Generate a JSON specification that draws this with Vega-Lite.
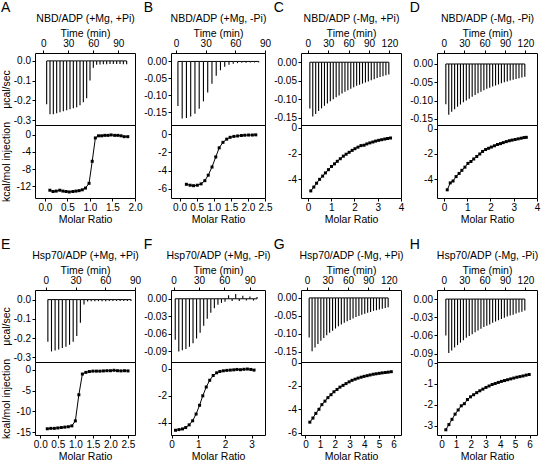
{
"$schema": "https://vega.github.io/schema/vega-lite/v6.json",
"background": "white",
"padding": {"left": 0, "top": 0, "right": 0, "bottom": 0},
"config": {
 "font": "Liberation Sans",
 "view": {"stroke": "black", "strokeWidth": 1},
 "axis": {"grid": false, "domain": false, "tickColor": "black", "tickSize": 3, "labelColor": "black", "labelFontSize": 10, "labelFont": "Liberation Sans", "titleFont": "Liberation Sans", "titleFontSize": 10.5, "titleFontWeight": "normal", "titleColor": "black", "labelPadding": 1.5, "labelFlush": false, "labelOverlap": false, "titlePadding": 2},
 "title": {"font": "Liberation Sans", "fontSize": 14, "fontWeight": "normal", "anchor": "start", "frame": "bounds", "color": "black", "offset": -1},
 "locale": {"number": {"decimal": ".", "thousands": ",", "grouping": [3], "currency": ["$", ""], "minus": "-"}}
},
"datasets": {
 "kd": [
  {"panel": "A", "kd": ": 4.55nM"}, {"panel": "B", "kd": ": 66.3nM"}, {"panel": "C", "kd": ": 4.21μM"}, {"panel": "D", "kd": ": 4.61μM"},
  {"panel": "E", "kd": ": 6.50nM"}, {"panel": "F", "kd": ": 81.5nM"}, {"panel": "G", "kd": ": 6.54μM"}, {"panel": "H", "kd": ": 9.92μM"}
 ],
 "A": [
  {"t": 4, "p": -0.22, "mr": 0.11, "q": -12.9}, {"t": 8, "p": -0.27, "mr": 0.18, "q": -13.2}, {"t": 12, "p": -0.27, "mr": 0.25, "q": -13.1},
  {"t": 16, "p": -0.265, "mr": 0.33, "q": -12.9}, {"t": 20, "p": -0.26, "mr": 0.40, "q": -13.1}, {"t": 24, "p": -0.255, "mr": 0.47, "q": -13.2},
  {"t": 28, "p": -0.25, "mr": 0.54, "q": -13.3}, {"t": 32, "p": -0.245, "mr": 0.62, "q": -13.2}, {"t": 36, "p": -0.24, "mr": 0.69, "q": -13.1},
  {"t": 40, "p": -0.235, "mr": 0.76, "q": -13.0}, {"t": 44, "p": -0.225, "mr": 0.83, "q": -12.8}, {"t": 48, "p": -0.21, "mr": 0.90, "q": -12.4},
  {"t": 52, "p": -0.19, "mr": 0.98, "q": -11.3}, {"t": 56, "p": -0.1, "mr": 1.05, "q": -6.2}, {"t": 60, "p": -0.035, "mr": 1.12, "q": -0.8},
  {"t": 64, "p": -0.02, "mr": 1.19, "q": -0.3}, {"t": 68, "p": -0.018, "mr": 1.26, "q": -0.3}, {"t": 72, "p": -0.017, "mr": 1.33, "q": -0.2},
  {"t": 76, "p": -0.017, "mr": 1.40, "q": -0.2}, {"t": 80, "p": -0.016, "mr": 1.47, "q": -0.1}, {"t": 84, "p": -0.016, "mr": 1.55, "q": -0.2},
  {"t": 88, "p": -0.016, "mr": 1.62, "q": -0.2}, {"t": 92, "p": -0.016, "mr": 1.69, "q": -0.3}, {"t": 96, "p": -0.017, "mr": 1.76, "q": -0.5},
  {"t": 100, "p": -0.017, "mr": 1.84, "q": -0.5}
 ],
 "B": [
  {"t": 2, "p": -0.132, "mr": 0.20, "q": -5.5}, {"t": 6.3, "p": -0.169, "mr": 0.31, "q": -5.6}, {"t": 10.6, "p": -0.167, "mr": 0.41, "q": -5.65},
  {"t": 14.9, "p": -0.163, "mr": 0.52, "q": -5.6}, {"t": 19.2, "p": -0.155, "mr": 0.63, "q": -5.45}, {"t": 23.5, "p": -0.14, "mr": 0.74, "q": -5.1},
  {"t": 27.8, "p": -0.118, "mr": 0.84, "q": -4.5}, {"t": 32.1, "p": -0.092, "mr": 0.95, "q": -3.6}, {"t": 36.4, "p": -0.066, "mr": 1.06, "q": -2.5},
  {"t": 40.7, "p": -0.042, "mr": 1.16, "q": -1.5}, {"t": 45, "p": -0.026, "mr": 1.27, "q": -0.9}, {"t": 49.3, "p": -0.016, "mr": 1.38, "q": -0.55},
  {"t": 53.6, "p": -0.01, "mr": 1.48, "q": -0.35}, {"t": 57.9, "p": -0.007, "mr": 1.59, "q": -0.25}, {"t": 62.2, "p": -0.005, "mr": 1.70, "q": -0.2},
  {"t": 66.5, "p": -0.004, "mr": 1.81, "q": -0.15}, {"t": 70.8, "p": -0.004, "mr": 1.91, "q": -0.12}, {"t": 75.1, "p": -0.003, "mr": 2.02, "q": -0.1},
  {"t": 79.4, "p": -0.003, "mr": 2.13, "q": -0.1}, {"t": 83.7, "p": -0.003, "mr": 2.23, "q": -0.08}
 ],
 "C": [
  {"t": 3, "p": -0.125, "mr": 0.12, "q": -4.9}, {"t": 7.3, "p": -0.147, "mr": 0.25, "q": -4.6}, {"t": 11.6, "p": -0.14, "mr": 0.37, "q": -4.3},
  {"t": 15.9, "p": -0.132, "mr": 0.50, "q": -4.0}, {"t": 20.2, "p": -0.125, "mr": 0.63, "q": -3.75}, {"t": 24.5, "p": -0.118, "mr": 0.75, "q": -3.5},
  {"t": 28.8, "p": -0.112, "mr": 0.88, "q": -3.25}, {"t": 33.1, "p": -0.106, "mr": 1.01, "q": -3.0}, {"t": 37.4, "p": -0.1, "mr": 1.14, "q": -2.8},
  {"t": 41.7, "p": -0.095, "mr": 1.26, "q": -2.6}, {"t": 46, "p": -0.09, "mr": 1.39, "q": -2.4}, {"t": 50.3, "p": -0.085, "mr": 1.52, "q": -2.2},
  {"t": 54.6, "p": -0.08, "mr": 1.64, "q": -2.05}, {"t": 58.9, "p": -0.076, "mr": 1.77, "q": -1.9}, {"t": 63.2, "p": -0.072, "mr": 1.90, "q": -1.75},
  {"t": 67.5, "p": -0.068, "mr": 2.02, "q": -1.62}, {"t": 71.8, "p": -0.064, "mr": 2.15, "q": -1.5}, {"t": 76.1, "p": -0.061, "mr": 2.28, "q": -1.38},
  {"t": 80.4, "p": -0.058, "mr": 2.41, "q": -1.35}, {"t": 84.7, "p": -0.055, "mr": 2.53, "q": -1.25}, {"t": 89, "p": -0.052, "mr": 2.66, "q": -1.17},
  {"t": 93.3, "p": -0.049, "mr": 2.79, "q": -1.1}, {"t": 97.6, "p": -0.046, "mr": 2.91, "q": -1.03}, {"t": 101.9, "p": -0.043, "mr": 3.04, "q": -0.97},
  {"t": 106.2, "p": -0.04, "mr": 3.17, "q": -0.92}, {"t": 110.5, "p": -0.038, "mr": 3.30, "q": -0.87}, {"t": 114.8, "p": -0.035, "mr": 3.42, "q": -0.83},
  {"t": 119.1, "p": -0.033, "mr": 3.55, "q": -0.79}
 ],
 "D": [
  {"t": 3, "p": -0.11, "mr": 0.14, "q": -4.85}, {"t": 7.3, "p": -0.139, "mr": 0.27, "q": -4.3}, {"t": 11.6, "p": -0.131, "mr": 0.39, "q": -4.15},
  {"t": 15.9, "p": -0.124, "mr": 0.52, "q": -3.8}, {"t": 20.2, "p": -0.117, "mr": 0.65, "q": -3.55}, {"t": 24.5, "p": -0.111, "mr": 0.77, "q": -3.3},
  {"t": 28.8, "p": -0.105, "mr": 0.90, "q": -3.05}, {"t": 33.1, "p": -0.1, "mr": 1.03, "q": -2.75}, {"t": 37.4, "p": -0.095, "mr": 1.16, "q": -2.6},
  {"t": 41.7, "p": -0.09, "mr": 1.28, "q": -2.4}, {"t": 46, "p": -0.085, "mr": 1.41, "q": -2.2}, {"t": 50.3, "p": -0.08, "mr": 1.54, "q": -2.0},
  {"t": 54.6, "p": -0.076, "mr": 1.66, "q": -1.8}, {"t": 58.9, "p": -0.072, "mr": 1.79, "q": -1.65}, {"t": 63.2, "p": -0.068, "mr": 1.92, "q": -1.55},
  {"t": 67.5, "p": -0.065, "mr": 2.04, "q": -1.45}, {"t": 71.8, "p": -0.062, "mr": 2.17, "q": -1.35}, {"t": 76.1, "p": -0.059, "mr": 2.30, "q": -1.25},
  {"t": 80.4, "p": -0.056, "mr": 2.43, "q": -1.18}, {"t": 84.7, "p": -0.053, "mr": 2.55, "q": -1.1}, {"t": 89, "p": -0.05, "mr": 2.68, "q": -1.02},
  {"t": 93.3, "p": -0.048, "mr": 2.81, "q": -0.95}, {"t": 97.6, "p": -0.045, "mr": 2.93, "q": -0.9}, {"t": 101.9, "p": -0.043, "mr": 3.06, "q": -0.85},
  {"t": 106.2, "p": -0.041, "mr": 3.19, "q": -0.8}, {"t": 110.5, "p": -0.039, "mr": 3.32, "q": -0.75}, {"t": 114.8, "p": -0.037, "mr": 3.44, "q": -0.7},
  {"t": 119.1, "p": -0.035, "mr": 3.54, "q": -0.68}
 ],
 "E": [
  {"t": 2, "p": -0.22, "mr": 0.2, "q": -14.2}, {"t": 5.65, "p": -0.27, "mr": 0.3, "q": -14.1}, {"t": 9.3, "p": -0.265, "mr": 0.4, "q": -14.1},
  {"t": 12.95, "p": -0.26, "mr": 0.5, "q": -14.0}, {"t": 16.6, "p": -0.252, "mr": 0.6, "q": -13.9}, {"t": 20.25, "p": -0.245, "mr": 0.7, "q": -13.8},
  {"t": 23.9, "p": -0.235, "mr": 0.8, "q": -13.7}, {"t": 27.55, "p": -0.22, "mr": 0.9, "q": -13.5}, {"t": 31.2, "p": -0.19, "mr": 1.0, "q": -12.3},
  {"t": 34.85, "p": -0.12, "mr": 1.1, "q": -6.0}, {"t": 38.5, "p": -0.025, "mr": 1.2, "q": -1.0}, {"t": 42.15, "p": -0.01, "mr": 1.3, "q": -0.6},
  {"t": 45.8, "p": -0.009, "mr": 1.4, "q": -0.4}, {"t": 49.45, "p": -0.008, "mr": 1.5, "q": -0.3}, {"t": 53.1, "p": -0.008, "mr": 1.6, "q": -0.3},
  {"t": 56.75, "p": -0.008, "mr": 1.7, "q": -0.3}, {"t": 60.4, "p": -0.008, "mr": 1.8, "q": -0.25}, {"t": 64.05, "p": -0.007, "mr": 1.9, "q": -0.2},
  {"t": 67.7, "p": -0.007, "mr": 2.0, "q": -0.2}, {"t": 71.35, "p": -0.007, "mr": 2.1, "q": -0.1}, {"t": 75, "p": -0.007, "mr": 2.2, "q": -0.2},
  {"t": 78.65, "p": -0.007, "mr": 2.3, "q": -0.25}, {"t": 82.3, "p": -0.007, "mr": 2.4, "q": -0.2}, {"t": 85.95, "p": -0.007, "mr": 2.5, "q": -0.25}
 ],
 "F": [
  {"t": 2, "p": -0.07, "mr": 0.15, "q": -4.55}, {"t": 6.2, "p": -0.09, "mr": 0.28, "q": -4.5}, {"t": 10.4, "p": -0.088, "mr": 0.41, "q": -4.45},
  {"t": 14.6, "p": -0.086, "mr": 0.53, "q": -4.35}, {"t": 18.8, "p": -0.082, "mr": 0.66, "q": -4.15}, {"t": 23, "p": -0.076, "mr": 0.79, "q": -3.85},
  {"t": 27.2, "p": -0.068, "mr": 0.92, "q": -3.35}, {"t": 31.4, "p": -0.058, "mr": 1.05, "q": -2.7}, {"t": 35.6, "p": -0.046, "mr": 1.17, "q": -2.0},
  {"t": 39.8, "p": -0.034, "mr": 1.30, "q": -1.35}, {"t": 44, "p": -0.024, "mr": 1.43, "q": -0.85}, {"t": 48.2, "p": -0.016, "mr": 1.56, "q": -0.5},
  {"t": 52.4, "p": -0.01, "mr": 1.69, "q": -0.3}, {"t": 56.6, "p": -0.007, "mr": 1.81, "q": -0.2}, {"t": 60.8, "p": -0.005, "mr": 1.94, "q": -0.15},
  {"t": 65, "p": 0.006, "mr": 2.07, "q": -0.12}, {"t": 69.2, "p": -0.004, "mr": 2.20, "q": -0.1}, {"t": 73.4, "p": 0.008, "mr": 2.33, "q": -0.08},
  {"t": 77.6, "p": -0.004, "mr": 2.45, "q": -0.05}, {"t": 81.8, "p": 0.005, "mr": 2.58, "q": -0.07}, {"t": 86, "p": -0.003, "mr": 2.71, "q": -0.04},
  {"t": 90.2, "p": 0.004, "mr": 2.84, "q": -0.02}, {"t": 94.4, "p": -0.003, "mr": 2.97, "q": -0.05}, {"t": 98.6, "p": 0.003, "mr": 3.09, "q": -0.1}
 ],
 "G": [
  {"t": 3, "p": -0.11, "mr": 0.30, "q": -5.1}, {"t": 7.3, "p": -0.148, "mr": 0.51, "q": -4.75}, {"t": 11.6, "p": -0.138, "mr": 0.71, "q": -4.35},
  {"t": 15.9, "p": -0.128, "mr": 0.92, "q": -4.0}, {"t": 20.2, "p": -0.119, "mr": 1.12, "q": -3.6}, {"t": 24.5, "p": -0.111, "mr": 1.33, "q": -3.3},
  {"t": 28.8, "p": -0.104, "mr": 1.53, "q": -3.0}, {"t": 33.1, "p": -0.097, "mr": 1.74, "q": -2.75}, {"t": 37.4, "p": -0.091, "mr": 1.94, "q": -2.5},
  {"t": 41.7, "p": -0.085, "mr": 2.15, "q": -2.3}, {"t": 46, "p": -0.079, "mr": 2.35, "q": -2.1}, {"t": 50.3, "p": -0.074, "mr": 2.56, "q": -1.95},
  {"t": 54.6, "p": -0.069, "mr": 2.76, "q": -1.8}, {"t": 58.9, "p": -0.065, "mr": 2.97, "q": -1.65}, {"t": 63.2, "p": -0.061, "mr": 3.17, "q": -1.52},
  {"t": 67.5, "p": -0.057, "mr": 3.38, "q": -1.42}, {"t": 71.8, "p": -0.053, "mr": 3.58, "q": -1.33}, {"t": 76.1, "p": -0.05, "mr": 3.79, "q": -1.25},
  {"t": 80.4, "p": -0.047, "mr": 3.99, "q": -1.18}, {"t": 84.7, "p": -0.044, "mr": 4.20, "q": -1.12}, {"t": 89, "p": -0.041, "mr": 4.40, "q": -1.06},
  {"t": 93.3, "p": -0.039, "mr": 4.61, "q": -1.0}, {"t": 97.6, "p": -0.036, "mr": 4.81, "q": -0.96}, {"t": 101.9, "p": -0.034, "mr": 5.02, "q": -0.92},
  {"t": 106.2, "p": -0.032, "mr": 5.22, "q": -0.88}, {"t": 110.5, "p": -0.03, "mr": 5.43, "q": -0.85}, {"t": 114.8, "p": -0.028, "mr": 5.63, "q": -0.82},
  {"t": 119.1, "p": -0.026, "mr": 5.84, "q": -0.78}
 ],
 "H": [
  {"t": 3, "p": -0.06, "mr": 0.30, "q": -3.2}, {"t": 7.3, "p": -0.089, "mr": 0.51, "q": -2.95}, {"t": 11.6, "p": -0.085, "mr": 0.72, "q": -2.7},
  {"t": 15.9, "p": -0.08, "mr": 0.93, "q": -2.45}, {"t": 20.2, "p": -0.076, "mr": 1.14, "q": -2.25}, {"t": 24.5, "p": -0.072, "mr": 1.35, "q": -2.05},
  {"t": 28.8, "p": -0.068, "mr": 1.56, "q": -1.95}, {"t": 33.1, "p": -0.064, "mr": 1.77, "q": -1.75}, {"t": 37.4, "p": -0.061, "mr": 1.98, "q": -1.62},
  {"t": 41.7, "p": -0.058, "mr": 2.19, "q": -1.52}, {"t": 46, "p": -0.055, "mr": 2.40, "q": -1.42}, {"t": 50.3, "p": -0.052, "mr": 2.61, "q": -1.33},
  {"t": 54.6, "p": -0.049, "mr": 2.82, "q": -1.25}, {"t": 58.9, "p": -0.046, "mr": 3.03, "q": -1.17}, {"t": 63.2, "p": -0.044, "mr": 3.24, "q": -1.1},
  {"t": 67.5, "p": -0.042, "mr": 3.45, "q": -1.03}, {"t": 71.8, "p": -0.039, "mr": 3.66, "q": -0.98}, {"t": 76.1, "p": -0.037, "mr": 3.87, "q": -0.93},
  {"t": 80.4, "p": -0.035, "mr": 4.08, "q": -0.88}, {"t": 84.7, "p": -0.033, "mr": 4.29, "q": -0.84}, {"t": 89, "p": -0.031, "mr": 4.50, "q": -0.8},
  {"t": 93.3, "p": -0.029, "mr": 4.71, "q": -0.76}, {"t": 97.6, "p": -0.027, "mr": 4.92, "q": -0.72}, {"t": 101.9, "p": -0.026, "mr": 5.13, "q": -0.68},
  {"t": 106.2, "p": -0.024, "mr": 5.34, "q": -0.65}, {"t": 110.5, "p": -0.022, "mr": 5.55, "q": -0.62}, {"t": 114.8, "p": -0.021, "mr": 5.76, "q": -0.58},
  {"t": 119.1, "p": -0.019, "mr": 5.97, "q": -0.55}
 ]
},
"spacing": 11,
"vconcat": [
 {
  "columns": 4, "spacing": {"row": 0, "column": 36}, "bounds": "flush",
  "concat": [
   {"width": 100, "height": 72, "title": "A", "data": {"name": "A"},
    "encoding": {"x": {"field": "t", "type": "quantitative", "scale": {"domain": [-10, 110], "nice": false, "zero": false}, "axis": {"orient": "top", "values": [0, 30, 60, 90], "title": ["NBD/ADP (+Mg, +Pi)", "Time (min)"], "titleLineHeight": 15, "titlePadding": 0}}},
    "layer": [
     {"mark": {"type": "rule", "color": "black", "strokeWidth": 1.1}, "encoding": {"y": {"field": "p", "type": "quantitative", "scale": {"domain": [-0.325, 0.04], "nice": false, "zero": false}, "axis": {"values": [0, -0.1, -0.2, -0.3], "format": ".1f", "title": "μcal/sec", "titleX": -24}}, "y2": {"datum": 0}}},
     {"mark": {"type": "line", "color": "black", "strokeWidth": 1}, "encoding": {"y": {"datum": 0, "type": "quantitative", "scale": {"domain": [-0.325, 0.04], "nice": false, "zero": false}, "axis": {"values": [0, -0.1, -0.2, -0.3], "format": ".1f", "title": "μcal/sec", "titleX": -24}}}}
    ]},
   {"width": 94, "height": 72, "title": "B", "data": {"name": "B"},
    "encoding": {"x": {"field": "t", "type": "quantitative", "scale": {"domain": [-5, 90], "nice": false, "zero": false}, "axis": {"orient": "top", "values": [0, 30, 60, 90], "title": ["NBD/ADP (+Mg, -Pi)", "Time (min)"], "titleLineHeight": 15, "titlePadding": 0}}},
    "layer": [
     {"mark": {"type": "rule", "color": "black", "strokeWidth": 1.1}, "encoding": {"y": {"field": "p", "type": "quantitative", "scale": {"domain": [-0.188, 0.025], "nice": false, "zero": false}, "axis": {"values": [0, -0.05, -0.1, -0.15], "format": ".2f", "title": null}}, "y2": {"datum": 0}}},
     {"mark": {"type": "line", "color": "black", "strokeWidth": 1}, "encoding": {"y": {"datum": 0, "type": "quantitative", "scale": {"domain": [-0.188, 0.025], "nice": false, "zero": false}, "axis": {"values": [0, -0.05, -0.1, -0.15], "format": ".2f", "title": null}}}}
    ]},
   {"width": 100, "height": 72, "title": "C", "data": {"name": "C"},
    "encoding": {"x": {"field": "t", "type": "quantitative", "scale": {"domain": [-10, 137], "nice": false, "zero": false}, "axis": {"orient": "top", "values": [0, 30, 60, 90, 120], "title": ["NBD/ADP (-Mg, +Pi)", "Time (min)"], "titleLineHeight": 15, "titlePadding": 0}}},
    "layer": [
     {"mark": {"type": "rule", "color": "black", "strokeWidth": 1.1}, "encoding": {"y": {"field": "p", "type": "quantitative", "scale": {"domain": [-0.17, 0.025], "nice": false, "zero": false}, "axis": {"values": [0, -0.05, -0.1, -0.15], "format": ".2f", "title": null}}, "y2": {"datum": 0}}},
     {"mark": {"type": "line", "color": "black", "strokeWidth": 1}, "encoding": {"y": {"datum": 0, "type": "quantitative", "scale": {"domain": [-0.17, 0.025], "nice": false, "zero": false}, "axis": {"values": [0, -0.05, -0.1, -0.15], "format": ".2f", "title": null}}}}
    ]},
   {"width": 100, "height": 72, "title": "D", "data": {"name": "D"},
    "encoding": {"x": {"field": "t", "type": "quantitative", "scale": {"domain": [-10, 137], "nice": false, "zero": false}, "axis": {"orient": "top", "values": [0, 30, 60, 90, 120], "title": ["NBD/ADP (-Mg, -Pi)", "Time (min)"], "titleLineHeight": 15, "titlePadding": 0}}},
    "layer": [
     {"mark": {"type": "rule", "color": "black", "strokeWidth": 1.1}, "encoding": {"y": {"field": "p", "type": "quantitative", "scale": {"domain": [-0.167, 0.03], "nice": false, "zero": false}, "axis": {"values": [0, -0.05, -0.1, -0.15], "format": ".2f", "title": null}}, "y2": {"datum": 0}}},
     {"mark": {"type": "line", "color": "black", "strokeWidth": 1}, "encoding": {"y": {"datum": 0, "type": "quantitative", "scale": {"domain": [-0.167, 0.03], "nice": false, "zero": false}, "axis": {"values": [0, -0.05, -0.1, -0.15], "format": ".2f", "title": null}}}}
    ]},
   {"width": 100, "height": 73, "data": {"name": "A"},
    "encoding": {
     "x": {"field": "mr", "type": "quantitative", "scale": {"domain": [-0.22, 2.0], "nice": false, "zero": false}, "axis": {"values": [0, 0.5, 1, 1.5, 2], "format": ".1f", "title": "Molar Ratio"}},
     "y": {"field": "q", "type": "quantitative", "scale": {"domain": [-14.7, 2.2], "nice": false, "zero": false}, "axis": {"values": [0, -4, -8, -12], "title": "kcal/mol injection", "titleX": -24}}},
    "layer": [
     {"mark": {"type": "line", "color": "black", "strokeWidth": 1}},
     {"mark": {"type": "point", "shape": "square", "filled": true, "color": "black", "size": 9, "opacity": 1}},
     {"data": {"name": "kd"}, "transform": [{"filter": "datum.panel === 'A'"}], "mark": {"type": "text", "text": "K", "fontStyle": "italic", "fontSize": 10, "align": "left", "baseline": "middle"}, "encoding": {"x": {"datum": -0.12, "type": "quantitative"}, "y": {"datum": -4, "type": "quantitative"}}},
     {"data": {"name": "kd"}, "transform": [{"filter": "datum.panel === 'A'"}], "mark": {"type": "text", "text": "d", "fontSize": 7, "dx": 7, "dy": 3, "align": "left", "baseline": "middle"}, "encoding": {"x": {"datum": -0.12, "type": "quantitative"}, "y": {"datum": -4, "type": "quantitative"}}},
     {"data": {"name": "kd"}, "transform": [{"filter": "datum.panel === 'A'"}], "mark": {"type": "text", "fontSize": 10, "dx": 11, "align": "left", "baseline": "middle"}, "encoding": {"text": {"field": "kd"}, "x": {"datum": -0.12, "type": "quantitative"}, "y": {"datum": -4, "type": "quantitative"}}}
    ]},
   {"width": 94, "height": 73, "data": {"name": "B"},
    "encoding": {
     "x": {"field": "mr", "type": "quantitative", "scale": {"domain": [-0.25, 2.5], "nice": false, "zero": false}, "axis": {"values": [0, 0.5, 1, 1.5, 2, 2.5], "format": ".1f", "title": "Molar Ratio"}},
     "y": {"field": "q", "type": "quantitative", "scale": {"domain": [-7, 1], "nice": false, "zero": false}, "axis": {"values": [0, -2, -4, -6], "title": null}}},
    "layer": [
     {"mark": {"type": "line", "color": "black", "strokeWidth": 1}},
     {"mark": {"type": "point", "shape": "square", "filled": true, "color": "black", "size": 9, "opacity": 1}},
     {"data": {"name": "kd"}, "transform": [{"filter": "datum.panel === 'B'"}], "mark": {"type": "text", "text": "K", "fontStyle": "italic", "fontSize": 10, "align": "left", "baseline": "middle"}, "encoding": {"x": {"datum": 0.9, "type": "quantitative"}, "y": {"datum": -4.2, "type": "quantitative"}}},
     {"data": {"name": "kd"}, "transform": [{"filter": "datum.panel === 'B'"}], "mark": {"type": "text", "text": "d", "fontSize": 7, "dx": 7, "dy": 3, "align": "left", "baseline": "middle"}, "encoding": {"x": {"datum": 0.9, "type": "quantitative"}, "y": {"datum": -4.2, "type": "quantitative"}}},
     {"data": {"name": "kd"}, "transform": [{"filter": "datum.panel === 'B'"}], "mark": {"type": "text", "fontSize": 10, "dx": 11, "align": "left", "baseline": "middle"}, "encoding": {"text": {"field": "kd"}, "x": {"datum": 0.9, "type": "quantitative"}, "y": {"datum": -4.2, "type": "quantitative"}}}
    ]},
   {"width": 100, "height": 73, "data": {"name": "C"},
    "encoding": {
     "x": {"field": "mr", "type": "quantitative", "scale": {"domain": [-0.3, 4], "nice": false, "zero": false}, "axis": {"values": [0, 1, 2, 3, 4], "format": "d", "title": "Molar Ratio"}},
     "y": {"field": "q", "type": "quantitative", "scale": {"domain": [-5.45, 0.22], "nice": false, "zero": false}, "axis": {"values": [0, -2, -4], "title": null}}},
    "layer": [
     {"mark": {"type": "line", "color": "black", "strokeWidth": 1}},
     {"mark": {"type": "point", "shape": "square", "filled": true, "color": "black", "size": 9, "opacity": 1}},
     {"data": {"name": "kd"}, "transform": [{"filter": "datum.panel === 'C'"}], "mark": {"type": "text", "text": "K", "fontStyle": "italic", "fontSize": 10, "align": "left", "baseline": "middle"}, "encoding": {"x": {"datum": 1.45, "type": "quantitative"}, "y": {"datum": -4.1, "type": "quantitative"}}},
     {"data": {"name": "kd"}, "transform": [{"filter": "datum.panel === 'C'"}], "mark": {"type": "text", "text": "d", "fontSize": 7, "dx": 7, "dy": 3, "align": "left", "baseline": "middle"}, "encoding": {"x": {"datum": 1.45, "type": "quantitative"}, "y": {"datum": -4.1, "type": "quantitative"}}},
     {"data": {"name": "kd"}, "transform": [{"filter": "datum.panel === 'C'"}], "mark": {"type": "text", "fontSize": 10, "dx": 11, "align": "left", "baseline": "middle"}, "encoding": {"text": {"field": "kd"}, "x": {"datum": 1.45, "type": "quantitative"}, "y": {"datum": -4.1, "type": "quantitative"}}}
    ]},
   {"width": 100, "height": 73, "data": {"name": "D"},
    "encoding": {
     "x": {"field": "mr", "type": "quantitative", "scale": {"domain": [-0.3, 4], "nice": false, "zero": false}, "axis": {"values": [0, 1, 2, 3, 4], "format": "d", "title": "Molar Ratio"}},
     "y": {"field": "q", "type": "quantitative", "scale": {"domain": [-5.5, 0.3], "nice": false, "zero": false}, "axis": {"values": [0, -2, -4], "title": null}}},
    "layer": [
     {"mark": {"type": "line", "color": "black", "strokeWidth": 1}},
     {"mark": {"type": "point", "shape": "square", "filled": true, "color": "black", "size": 9, "opacity": 1}},
     {"data": {"name": "kd"}, "transform": [{"filter": "datum.panel === 'D'"}], "mark": {"type": "text", "text": "K", "fontStyle": "italic", "fontSize": 10, "align": "left", "baseline": "middle"}, "encoding": {"x": {"datum": 1.43, "type": "quantitative"}, "y": {"datum": -4.2, "type": "quantitative"}}},
     {"data": {"name": "kd"}, "transform": [{"filter": "datum.panel === 'D'"}], "mark": {"type": "text", "text": "d", "fontSize": 7, "dx": 7, "dy": 3, "align": "left", "baseline": "middle"}, "encoding": {"x": {"datum": 1.43, "type": "quantitative"}, "y": {"datum": -4.2, "type": "quantitative"}}},
     {"data": {"name": "kd"}, "transform": [{"filter": "datum.panel === 'D'"}], "mark": {"type": "text", "fontSize": 10, "dx": 11, "align": "left", "baseline": "middle"}, "encoding": {"text": {"field": "kd"}, "x": {"datum": 1.43, "type": "quantitative"}, "y": {"datum": -4.2, "type": "quantitative"}}}
    ]}
  ]
 },
 {
  "columns": 4, "spacing": {"row": 0, "column": 36}, "bounds": "flush",
  "concat": [
   {"width": 100, "height": 72, "title": "E", "data": {"name": "E"},
    "encoding": {"x": {"field": "t", "type": "quantitative", "scale": {"domain": [-11, 90], "nice": false, "zero": false}, "axis": {"orient": "top", "values": [0, 30, 60, 90], "title": ["Hsp70/ADP (+Mg, +Pi)", "Time (min)"], "titleLineHeight": 15, "titlePadding": 0}}},
    "layer": [
     {"mark": {"type": "rule", "color": "black", "strokeWidth": 1.1}, "encoding": {"y": {"field": "p", "type": "quantitative", "scale": {"domain": [-0.325, 0.05], "nice": false, "zero": false}, "axis": {"values": [0, -0.1, -0.2, -0.3], "format": ".1f", "title": "μcal/sec", "titleX": -24}}, "y2": {"datum": 0}}},
     {"mark": {"type": "line", "color": "black", "strokeWidth": 1}, "encoding": {"y": {"datum": 0, "type": "quantitative", "scale": {"domain": [-0.325, 0.05], "nice": false, "zero": false}, "axis": {"values": [0, -0.1, -0.2, -0.3], "format": ".1f", "title": "μcal/sec", "titleX": -24}}}}
    ]},
   {"width": 94, "height": 72, "title": "F", "data": {"name": "F"},
    "encoding": {"x": {"field": "t", "type": "quantitative", "scale": {"domain": [-3, 108], "nice": false, "zero": false}, "axis": {"orient": "top", "values": [0, 30, 60, 90], "title": ["Hsp70/ADP (+Mg, -Pi)", "Time (min)"], "titleLineHeight": 15, "titlePadding": 0}}},
    "layer": [
     {"mark": {"type": "rule", "color": "black", "strokeWidth": 1.1}, "encoding": {"y": {"field": "p", "type": "quantitative", "scale": {"domain": [-0.108, 0.015], "nice": false, "zero": false}, "axis": {"values": [0, -0.03, -0.06, -0.09], "format": ".2f", "title": null}}, "y2": {"datum": 0}}},
     {"mark": {"type": "line", "color": "black", "strokeWidth": 1}, "encoding": {"y": {"datum": 0, "type": "quantitative", "scale": {"domain": [-0.108, 0.015], "nice": false, "zero": false}, "axis": {"values": [0, -0.03, -0.06, -0.09], "format": ".2f", "title": null}}}}
    ]},
   {"width": 100, "height": 72, "title": "G", "data": {"name": "G"},
    "encoding": {"x": {"field": "t", "type": "quantitative", "scale": {"domain": [-9, 138], "nice": false, "zero": false}, "axis": {"orient": "top", "values": [0, 30, 60, 90, 120], "title": ["Hsp70/ADP (-Mg, +Pi)", "Time (min)"], "titleLineHeight": 15, "titlePadding": 0}}},
    "layer": [
     {"mark": {"type": "rule", "color": "black", "strokeWidth": 1.1}, "encoding": {"y": {"field": "p", "type": "quantitative", "scale": {"domain": [-0.178, 0.022], "nice": false, "zero": false}, "axis": {"values": [0, -0.05, -0.1, -0.15], "format": ".2f", "title": null}}, "y2": {"datum": 0}}},
     {"mark": {"type": "line", "color": "black", "strokeWidth": 1}, "encoding": {"y": {"datum": 0, "type": "quantitative", "scale": {"domain": [-0.178, 0.022], "nice": false, "zero": false}, "axis": {"values": [0, -0.05, -0.1, -0.15], "format": ".2f", "title": null}}}}
    ]},
   {"width": 100, "height": 72, "title": "H", "data": {"name": "H"},
    "encoding": {"x": {"field": "t", "type": "quantitative", "scale": {"domain": [-10, 137], "nice": false, "zero": false}, "axis": {"orient": "top", "values": [0, 30, 60, 90, 120], "title": ["Hsp70/ADP (-Mg, -Pi)", "Time (min)"], "titleLineHeight": 15, "titlePadding": 0}}},
    "layer": [
     {"mark": {"type": "rule", "color": "black", "strokeWidth": 1.1}, "encoding": {"y": {"field": "p", "type": "quantitative", "scale": {"domain": [-0.104, 0.015], "nice": false, "zero": false}, "axis": {"values": [0, -0.03, -0.06, -0.09], "format": ".2f", "title": null}}, "y2": {"datum": 0}}},
     {"mark": {"type": "line", "color": "black", "strokeWidth": 1}, "encoding": {"y": {"datum": 0, "type": "quantitative", "scale": {"domain": [-0.104, 0.015], "nice": false, "zero": false}, "axis": {"values": [0, -0.03, -0.06, -0.09], "format": ".2f", "title": null}}}}
    ]},
   {"width": 100, "height": 73, "data": {"name": "E"},
    "encoding": {
     "x": {"field": "mr", "type": "quantitative", "scale": {"domain": [-0.15, 2.7], "nice": false, "zero": false}, "axis": {"values": [0, 0.5, 1, 1.5, 2, 2.5], "format": ".1f", "title": "Molar Ratio"}},
     "y": {"field": "q", "type": "quantitative", "scale": {"domain": [-15.7, 1.9], "nice": false, "zero": false}, "axis": {"values": [0, -5, -10, -15], "title": "kcal/mol injection", "titleX": -24}}},
    "layer": [
     {"mark": {"type": "line", "color": "black", "strokeWidth": 1}},
     {"mark": {"type": "point", "shape": "square", "filled": true, "color": "black", "size": 9, "opacity": 1}},
     {"data": {"name": "kd"}, "transform": [{"filter": "datum.panel === 'E'"}], "mark": {"type": "text", "text": "K", "fontStyle": "italic", "fontSize": 10, "align": "left", "baseline": "middle"}, "encoding": {"x": {"datum": 1.15, "type": "quantitative"}, "y": {"datum": -10, "type": "quantitative"}}},
     {"data": {"name": "kd"}, "transform": [{"filter": "datum.panel === 'E'"}], "mark": {"type": "text", "text": "d", "fontSize": 7, "dx": 7, "dy": 3, "align": "left", "baseline": "middle"}, "encoding": {"x": {"datum": 1.15, "type": "quantitative"}, "y": {"datum": -10, "type": "quantitative"}}},
     {"data": {"name": "kd"}, "transform": [{"filter": "datum.panel === 'E'"}], "mark": {"type": "text", "fontSize": 10, "dx": 11, "align": "left", "baseline": "middle"}, "encoding": {"text": {"field": "kd"}, "x": {"datum": 1.15, "type": "quantitative"}, "y": {"datum": -10, "type": "quantitative"}}}
    ]},
   {"width": 94, "height": 73, "data": {"name": "F"},
    "encoding": {
     "x": {"field": "mr", "type": "quantitative", "scale": {"domain": [-0.02, 3.5], "nice": false, "zero": false}, "axis": {"values": [0, 1, 2, 3], "format": "d", "title": "Molar Ratio"}},
     "y": {"field": "q", "type": "quantitative", "scale": {"domain": [-4.9, 0.5], "nice": false, "zero": false}, "axis": {"values": [0, -2, -4], "title": null}}},
    "layer": [
     {"mark": {"type": "line", "color": "black", "strokeWidth": 1}},
     {"mark": {"type": "point", "shape": "square", "filled": true, "color": "black", "size": 9, "opacity": 1}},
     {"data": {"name": "kd"}, "transform": [{"filter": "datum.panel === 'F'"}], "mark": {"type": "text", "text": "K", "fontStyle": "italic", "fontSize": 10, "align": "left", "baseline": "middle"}, "encoding": {"x": {"datum": 1.4, "type": "quantitative"}, "y": {"datum": -3.2, "type": "quantitative"}}},
     {"data": {"name": "kd"}, "transform": [{"filter": "datum.panel === 'F'"}], "mark": {"type": "text", "text": "d", "fontSize": 7, "dx": 7, "dy": 3, "align": "left", "baseline": "middle"}, "encoding": {"x": {"datum": 1.4, "type": "quantitative"}, "y": {"datum": -3.2, "type": "quantitative"}}},
     {"data": {"name": "kd"}, "transform": [{"filter": "datum.panel === 'F'"}], "mark": {"type": "text", "fontSize": 10, "dx": 11, "align": "left", "baseline": "middle"}, "encoding": {"text": {"field": "kd"}, "x": {"datum": 1.4, "type": "quantitative"}, "y": {"datum": -3.2, "type": "quantitative"}}}
    ]},
   {"width": 100, "height": 73, "data": {"name": "G"},
    "encoding": {
     "x": {"field": "mr", "type": "quantitative", "scale": {"domain": [-0.3, 6.5], "nice": false, "zero": false}, "axis": {"values": [0, 1, 2, 3, 4, 5, 6], "format": "d", "title": "Molar Ratio"}},
     "y": {"field": "q", "type": "quantitative", "scale": {"domain": [-6.2, 0.05], "nice": false, "zero": false}, "axis": {"values": [0, -2, -4, -6], "title": null}}},
    "layer": [
     {"mark": {"type": "line", "color": "black", "strokeWidth": 1}},
     {"mark": {"type": "point", "shape": "square", "filled": true, "color": "black", "size": 9, "opacity": 1}},
     {"data": {"name": "kd"}, "transform": [{"filter": "datum.panel === 'G'"}], "mark": {"type": "text", "text": "K", "fontStyle": "italic", "fontSize": 10, "align": "left", "baseline": "middle"}, "encoding": {"x": {"datum": 2.5, "type": "quantitative"}, "y": {"datum": -3.9, "type": "quantitative"}}},
     {"data": {"name": "kd"}, "transform": [{"filter": "datum.panel === 'G'"}], "mark": {"type": "text", "text": "d", "fontSize": 7, "dx": 7, "dy": 3, "align": "left", "baseline": "middle"}, "encoding": {"x": {"datum": 2.5, "type": "quantitative"}, "y": {"datum": -3.9, "type": "quantitative"}}},
     {"data": {"name": "kd"}, "transform": [{"filter": "datum.panel === 'G'"}], "mark": {"type": "text", "fontSize": 10, "dx": 11, "align": "left", "baseline": "middle"}, "encoding": {"text": {"field": "kd"}, "x": {"datum": 2.5, "type": "quantitative"}, "y": {"datum": -3.9, "type": "quantitative"}}}
    ]},
   {"width": 100, "height": 73, "data": {"name": "H"},
    "encoding": {
     "x": {"field": "mr", "type": "quantitative", "scale": {"domain": [-0.3, 6.5], "nice": false, "zero": false}, "axis": {"values": [0, 1, 2, 3, 4, 5, 6], "format": "d", "title": "Molar Ratio"}},
     "y": {"field": "q", "type": "quantitative", "scale": {"domain": [-3.45, 0.05], "nice": false, "zero": false}, "axis": {"values": [0, -1, -2, -3], "title": null}}},
    "layer": [
     {"mark": {"type": "line", "color": "black", "strokeWidth": 1}},
     {"mark": {"type": "point", "shape": "square", "filled": true, "color": "black", "size": 9, "opacity": 1}},
     {"data": {"name": "kd"}, "transform": [{"filter": "datum.panel === 'H'"}], "mark": {"type": "text", "text": "K", "fontStyle": "italic", "fontSize": 10, "align": "left", "baseline": "middle"}, "encoding": {"x": {"datum": 2.5, "type": "quantitative"}, "y": {"datum": -2.2, "type": "quantitative"}}},
     {"data": {"name": "kd"}, "transform": [{"filter": "datum.panel === 'H'"}], "mark": {"type": "text", "text": "d", "fontSize": 7, "dx": 7, "dy": 3, "align": "left", "baseline": "middle"}, "encoding": {"x": {"datum": 2.5, "type": "quantitative"}, "y": {"datum": -2.2, "type": "quantitative"}}},
     {"data": {"name": "kd"}, "transform": [{"filter": "datum.panel === 'H'"}], "mark": {"type": "text", "fontSize": 10, "dx": 11, "align": "left", "baseline": "middle"}, "encoding": {"text": {"field": "kd"}, "x": {"datum": 2.5, "type": "quantitative"}, "y": {"datum": -2.2, "type": "quantitative"}}}
    ]}
  ]
 }
]
}
